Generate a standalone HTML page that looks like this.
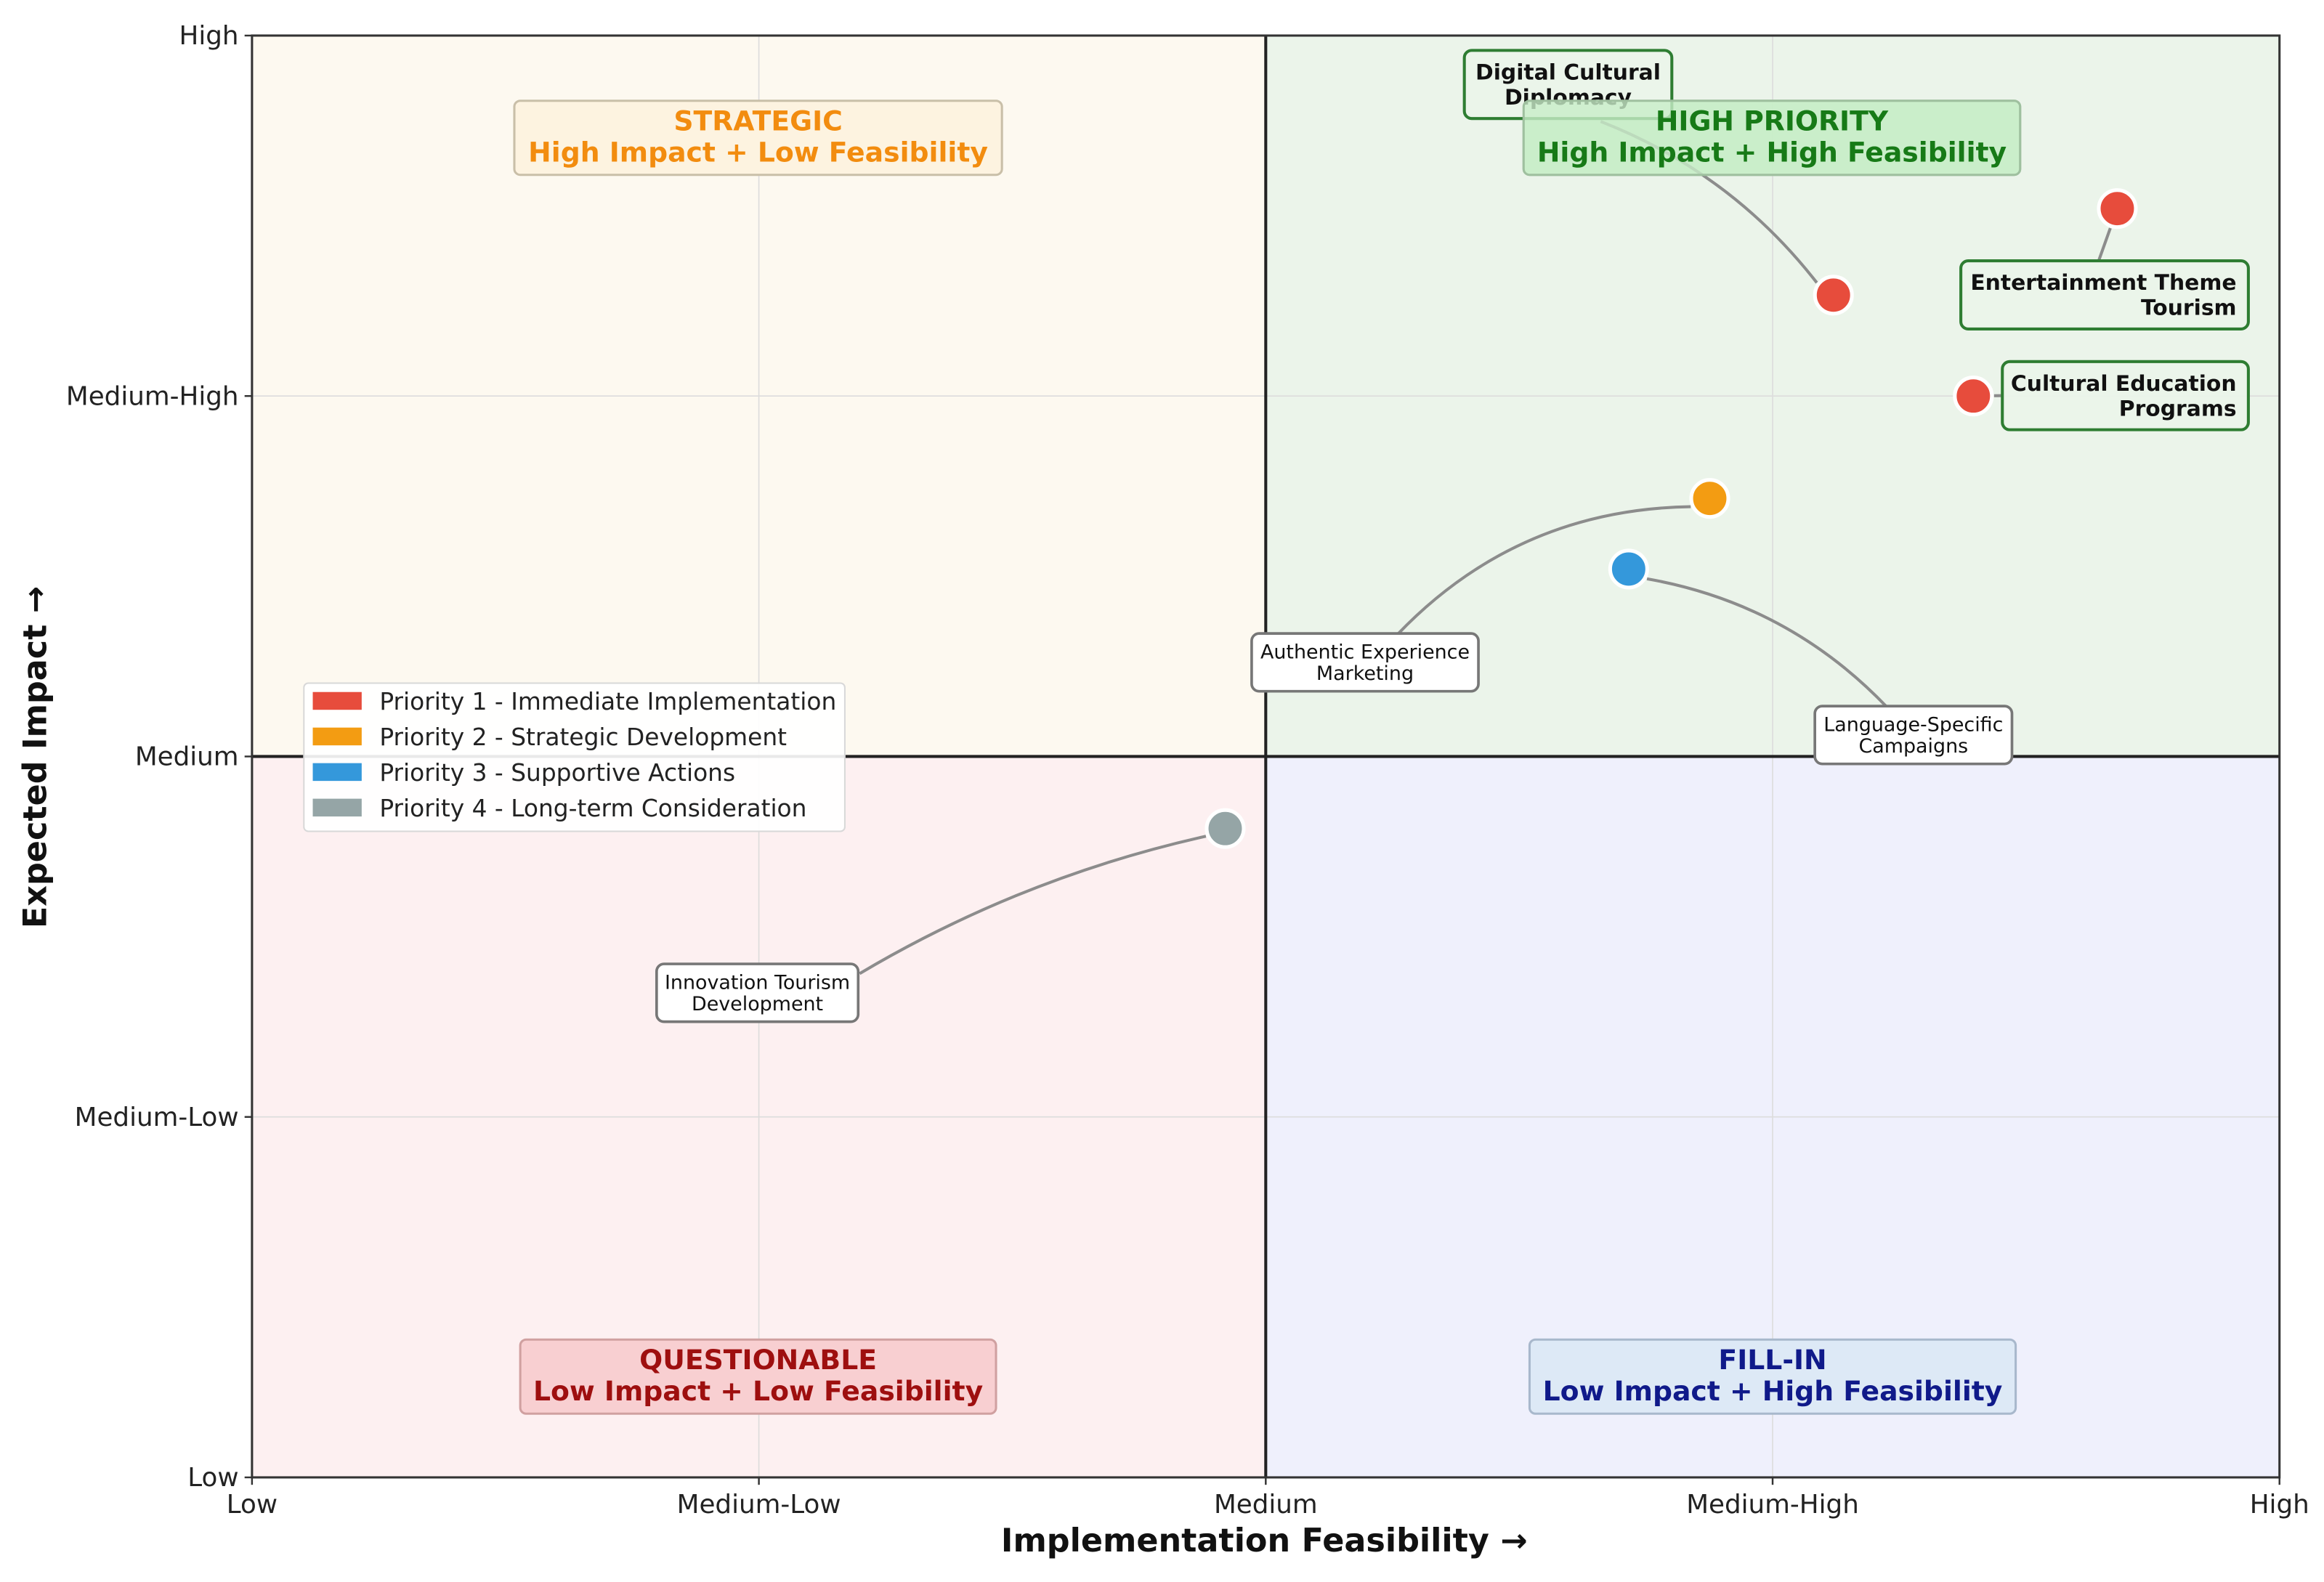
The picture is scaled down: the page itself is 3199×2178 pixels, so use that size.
<!DOCTYPE html>
<html><head><meta charset="utf-8">
<style>
html,body{margin:0;padding:0;background:#fff;}
svg{display:block;font-family:"DejaVu Sans","Liberation Sans",sans-serif;}
</style></head>
<body>
<svg id="chart" width="3199" height="2178" viewBox="0 0 1568 1067.6" xmlns="http://www.w3.org/2000/svg">
<g id="quads"></g>
<g id="grid"></g>
<g id="labels-quad"></g>
<g id="connectors"></g>
<g id="points"></g>
<g id="annots"></g>
<g id="axes"></g>
<g id="legend"></g>
</svg>
<script>
// ---- data ----
const tickLabels = ["Low","Medium-Low","Medium","Medium-High","High"];
const tickValues = [0, 2.5, 5, 7.5, 10];
const names = ["Digital Cultural\nDiplomacy","Entertainment Theme\nTourism","Cultural Education\nPrograms","Authentic Experience\nMarketing","Language-Specific\nCampaigns","Innovation Tourism\nDevelopment"];
const feasibility = [7.80, 9.20, 8.49, 7.19, 6.79, 4.80];
const impact = [8.20, 8.80, 7.50, 6.79, 6.30, 4.50];
const priority = [1, 1, 1, 2, 3, 4];
const legendLabels = ["Priority 1 - Immediate Implementation","Priority 2 - Strategic Development","Priority 3 - Supportive Actions","Priority 4 - Long-term Consideration"];

// ---- layout ----
const L=170,R=1538,T=24,B=997;
const X=v=>L+(R-L)*v/10, Y=v=>B-(B-T)*v/10;
const colors={1:"#e74c3c",2:"#f39c12",3:"#3498db",4:"#95a5a6"};
const NS="http://www.w3.org/2000/svg";
function mk(tag,attrs,parent){const e=document.createElementNS(NS,tag);for(const k in attrs)e.setAttribute(k,attrs[k]);parent.appendChild(e);return e;}
const g=id=>document.getElementById(id);

// quadrants
const qdefs=[["quadrant-strategic",0,5,5,10,"#fdf9f0"],["quadrant-high-priority",5,10,5,10,"#ebf4ea"],["quadrant-questionable",0,5,0,5,"#fdf0f1"],["quadrant-fill-in",5,10,0,5,"#eff0fc"]];
qdefs.forEach(q=>{const r=mk("rect",{x:X(q[1]),y:Y(q[4]),width:X(q[2])-X(q[1]),height:Y(q[3])-Y(q[4]),fill:q[5]},g("quads"));

});

// grid
tickValues.forEach(v=>{
 const a=mk("line",{x1:X(v),x2:X(v),y1:T,y2:B,stroke:"#dcdcdc","stroke-width":0.8},g("grid"));
 
 
 const b=mk("line",{x1:L,x2:R,y1:Y(v),y2:Y(v),stroke:"#dcdcdc","stroke-width":0.8},g("grid"));
 
 
});
let m1=mk("line",{x1:X(5),x2:X(5),y1:T,y2:B,stroke:"#222","stroke-width":2},g("grid"));


let m2=mk("line",{x1:L,x2:R,y1:Y(5),y2:Y(5),stroke:"#222","stroke-width":2},g("grid"));



// quadrant label boxes
const qlab=[["strategic-label",347,68,329,50,"#fdf3e0","#c9bfa8","#f28c0f","STRATEGIC","High Impact + Low Feasibility"],
["high-priority-label",1028,68,335,50,"rgba(200,238,200,0.8)","#9fc09f","#177a17","HIGH PRIORITY","High Impact + High Feasibility"],
["questionable-label",351,904,321,50,"#f8cfd1","#d0a0a0","#9e0f0f","QUESTIONABLE","Low Impact + Low Feasibility"],
["fill-in-label",1032,904,328,50,"#dde9f6","#a8b8cc","#101a8a","FILL-IN","Low Impact + High Feasibility"]];
qlab.forEach(q=>{
 const grp=mk("g",{},g("labels-quad"));
 
 
 mk("rect",{x:q[1],y:q[2],width:q[3],height:q[4],rx:4,fill:q[5],stroke:q[6],"stroke-width":1.5},grp);
 const cx=q[1]+q[3]/2;
 const t1=mk("text",{x:cx,y:q[2]+20,"text-anchor":"middle","font-size":18.5,"font-weight":"bold",fill:q[7]},grp);t1.textContent=q[8];
 const t2=mk("text",{x:cx,y:q[2]+41,"text-anchor":"middle","font-size":18.5,"font-weight":"bold",fill:q[7]},grp);t2.textContent=q[9];
});

// annotation label layout
const annLayout=[
 {cx:1058,cy:57,w:140,h:46,bold:true,al:"middle",ax:1080,ay:82,bend:-25},
 {cx:1420,cy:199,w:194,h:46,bold:true,al:"end",ax:1416,ay:176,bend:0},
 {cx:1434,cy:267,w:166,h:46,bold:true,al:"end",ax:1351,ay:267,bend:0},
 {cx:921,cy:447,w:153,h:39,bold:false,al:"middle",ax:943,ay:428,bend:-45},
 {cx:1291,cy:496,w:133,h:39,bold:false,al:"middle",ax:1273,ay:477,bend:30},
 {cx:511,cy:670,w:136,h:39,bold:false,al:"middle",ax:580,ay:657,bend:-20}];

names.forEach((n,i)=>{
 const px=X(feasibility[i]),py=Y(impact[i]),c=colors[priority[i]],lay=annLayout[i];
 const dx=px-lay.ax,dy=py-lay.ay,len=Math.hypot(dx,dy)||1;
 const ex=px-dx/len*14,ey=py-dy/len*14;
 const mx=(lay.ax+ex)/2-dy/len*lay.bend,my=(lay.ay+ey)/2+dx/len*lay.bend;
 if(len>16){
  const p=mk("path",{d:`M${lay.ax},${lay.ay} Q${mx},${my} ${ex},${ey}`,fill:"none",stroke:"#8c8c8c","stroke-width":2},g("connectors"));
  
  
 }
 const ci=mk("circle",{cx:px,cy:py,r:12.5,fill:c,stroke:"#fff","stroke-width":2.5},g("points"));
 
 
 const grp=mk("g",{},g("annots"));
 
 
 mk("rect",{x:lay.cx-lay.w/2,y:lay.cy-lay.h/2,width:lay.w,height:lay.h,rx:5,fill:lay.bold?"rgba(235,245,234,0.9)":"#fff",stroke:lay.bold?"#2e7d32":"#777","stroke-width":lay.bold?2:1.8},grp);
 const lines=n.split("\n"),fs=lay.bold?14.6:13.2,lh=lay.bold?17:14.5;
 const tx=lay.al==="end"?lay.cx+lay.w/2-8:lay.cx;
 lines.forEach((ln,k)=>{const t=mk("text",{x:tx,y:lay.cy-lh/2+k*lh+fs*0.35,"text-anchor":lay.al,"font-size":fs,"font-weight":lay.bold?"bold":"normal",fill:"#111"},grp);t.textContent=ln;});
});
g("annots").insertBefore(g("labels-quad").children[1].cloneNode(true),g("annots").children[1]);

// axes
const ax=g("axes");
const frame=mk("rect",{x:L,y:T,width:R-L,height:B-T,fill:"none",stroke:"#333","stroke-width":1.5},ax);


tickValues.forEach((v,i)=>{
 mk("line",{x1:X(v),x2:X(v),y1:B,y2:B+5,stroke:"#333","stroke-width":1.2},ax);
 const tx=mk("text",{x:X(v),y:B+24,"text-anchor":"middle","font-size":17.5,fill:"#222"},ax);
 tx.textContent=tickLabels[i];
 
 
 mk("line",{x1:L-5,x2:L,y1:Y(v),y2:Y(v),stroke:"#333","stroke-width":1.2},ax);
 const ty=mk("text",{x:L-9,y:Y(v)+6,"text-anchor":"end","font-size":17.5,fill:"#222"},ax);
 ty.textContent=tickLabels[i];
 
 
});
const xt=mk("text",{x:853,y:1047,"text-anchor":"middle","font-size":21.8,"font-weight":"bold",fill:"#111"},ax);
xt.textContent="Implementation Feasibility →";


const yt=mk("text",{x:0,y:0,"text-anchor":"middle","font-size":21.8,"font-weight":"bold",fill:"#111",transform:"translate(31,511) rotate(-90)"},ax);
yt.textContent="Expected Impact →";



// legend
const lg=g("legend");


mk("rect",{x:205,y:461,width:365,height:100,rx:3,fill:"rgba(255,255,255,0.9)",stroke:"#d8d8d8","stroke-width":1},lg);
legendLabels.forEach((s,i)=>{
 const e=mk("g",{},lg);
 
 
 mk("rect",{x:211,y:467+i*24,width:33,height:12,fill:colors[i+1]},e);
 const t=mk("text",{x:256,y:479+i*24,"font-size":16.1,fill:"#222"},e);t.textContent=s;
});
</script>
</body></html>
